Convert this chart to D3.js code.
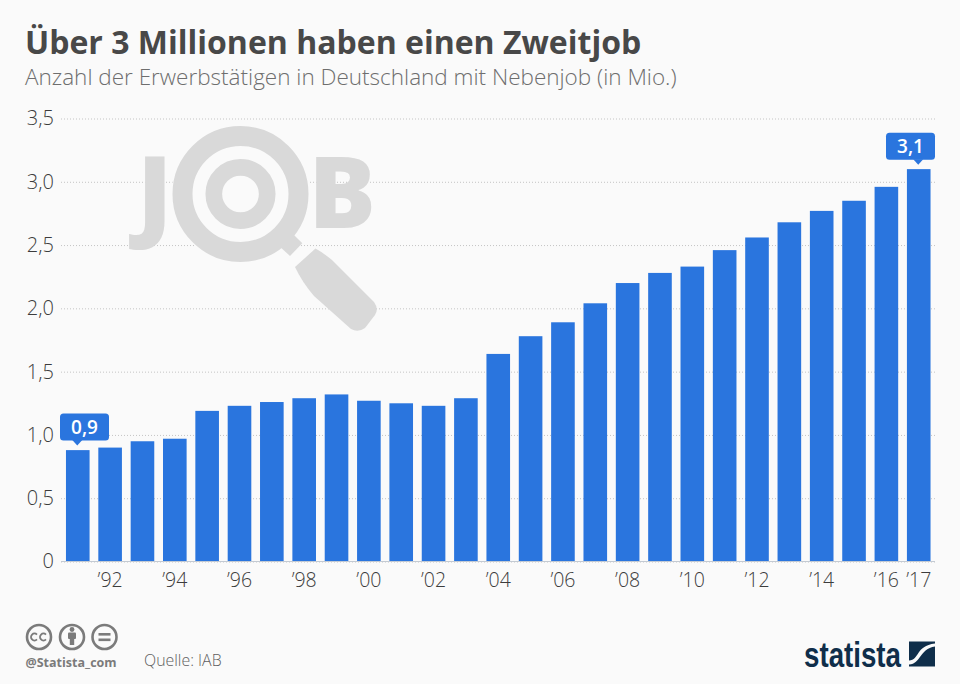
<!DOCTYPE html>
<html>
<head>
<meta charset="utf-8">
<script src="https://cdn.jsdelivr.net/npm/d3@7"></script>
<style>
  html, body { margin: 0; padding: 0; background: #fafafa; }
  svg { display: block; font-family: "Open Sans", sans-serif; }
</style>
</head>
<body>
<script>
const years = ["1991","1992","1993","1994","1995","1996","1997","1998","1999","2000","2001","2002","2003","2004","2005","2006","2007","2008","2009","2010","2011","2012","2013","2014","2015","2016","2017"];
const values = [0.88,0.90,0.95,0.97,1.19,1.23,1.26,1.29,1.32,1.27,1.25,1.23,1.29,1.64,1.78,1.89,2.04,2.20,2.28,2.33,2.46,2.56,2.68,2.77,2.85,2.96,3.10];
const yTicks = [0,0.5,1,1.5,2,2.5,3,3.5];
const xLabels = {"1992":"’92","1994":"’94","1996":"’96","1998":"’98","2000":"’00","2002":"’02","2004":"’04","2006":"’06","2008":"’08","2010":"’10","2012":"’12","2014":"’14","2016":"’16","2017":"’17"};
const callouts = [
  {year:"1991", text:"0,9", left:60, right:109},
  {year:"2017", text:"3,1", left:886, right:935}
];

const width = 960, height = 684;
const blue = "#2a75de", iconGrey = "#d9d9d9", navy = "#0f2e4a";

const svg = d3.select("body").append("svg")
  .attr("width", width)
  .attr("height", height);

svg.append("rect").attr("width", width).attr("height", height).attr("fill", "#fafafa");

svg.append("text").attr("x", 25).attr("y", 53.5)
  .attr("font-size", 32).attr("font-weight", 700).attr("fill", "#484848")
  .text("Über 3 Millionen haben einen Zweitjob");

svg.append("text").attr("x", 25).attr("y", 85)
  .attr("font-size", 22.5).attr("font-weight", 300).attr("fill", "#6e6e6e")
  .text("Anzahl der Erwerbstätigen in Deutschland mit Nebenjob (in Mio.)");

const x = d3.scaleBand().domain(years).range([61.6, 934.9]).paddingInner(0.27).paddingOuter(0.135);
const y = d3.scaleLinear().domain([0, 3.5]).range([561.5, 118.5]);

// grid + y labels
const yAxis = svg.append("g")
  .attr("transform", "translate(61,0)")
  .call(d3.axisLeft(y).tickValues(yTicks).tickSize(-874).tickPadding(7)
    .tickFormat(d => d === 0 ? "0" : d3.format(".1f")(d).replace(".", ",")));
yAxis.select(".domain").remove();
yAxis.selectAll(".tick line").attr("stroke", "#c4c4c4").attr("stroke-dasharray", "1,2");
yAxis.selectAll(".tick text").attr("font-size", 20).attr("font-weight", 300).attr("font-family", "'Open Sans', sans-serif").attr("fill", "#3c3c3c");

// watermark
const mark = svg.append("g").attr("fill", iconGrey);
mark.append("text").attr("x", 137).attr("y", 228).attr("font-size", 100).attr("font-weight", 800).text("J");
mark.append("text").attr("x", 308.5).attr("y", 228).attr("font-size", 100).attr("font-weight", 800).text("B");
mark.append("circle").attr("cx", 240.5).attr("cy", 194).attr("r", 69).attr("fill", "#fafafa");
mark.append("circle").attr("cx", 240.5).attr("cy", 194).attr("r", 58).attr("fill", "none").attr("stroke", iconGrey).attr("stroke-width", 20);
mark.append("circle").attr("cx", 240.5).attr("cy", 194).attr("r", 26.7).attr("fill", "none").attr("stroke", iconGrey).attr("stroke-width", 16.7);
mark.append("path").attr("d", "M278,245L291,232L302.3,243.3L290,256Z");
mark.append("path").attr("d", "M295,267L315.5,248.5Q322,252 332,260L374,302Q379,309 375,315L365,328Q358,333 351,329L314,296Q302,282 295,267Z");

// bars
svg.append("g").selectAll("rect")
  .data(years)
  .join("rect")
    .attr("x", d => x(d))
    .attr("width", x.bandwidth())
    .attr("y", (d, i) => y(values[i]))
    .attr("height", (d, i) => y(0) - y(values[i]))
    .attr("fill", blue);

// x axis
const xAxis = svg.append("g")
  .attr("transform", `translate(0,${y(0)})`)
  .call(d3.axisBottom(x).tickValues(Object.keys(xLabels)).tickSize(0).tickPadding(12).tickFormat(d => xLabels[d]));
xAxis.select(".domain").attr("stroke", "#c3cad3").attr("stroke-width", 1.2).attr("d", "M61,0H935");
xAxis.selectAll(".tick text").attr("font-size", 19.5).attr("font-weight", 300).attr("font-family", "'Open Sans', sans-serif").attr("fill", "#3c3c3c");

// value callouts
const callout = svg.append("g").selectAll("g").data(callouts).join("g");
callout.each(function(c) {
  const g = d3.select(this);
  const top = y(values[years.indexOf(c.year)]);
  const cx = x(c.year) + x.bandwidth() / 2 - 0.5;
  g.append("rect").attr("x", c.left).attr("width", c.right - c.left)
    .attr("y", top - 36.5).attr("height", 27).attr("rx", 3.5).attr("fill", blue);
  g.append("path").attr("d", `M${cx - 5},${top - 10}L${cx},${top - 4.5}L${cx + 5},${top - 10}Z`).attr("fill", blue);
  g.append("text").attr("x", (c.left + c.right) / 2).attr("y", top - 16)
    .attr("text-anchor", "middle").attr("font-size", 19).attr("font-weight", 600).attr("fill", "#fff")
    .text(c.text);
});

// licence icons
const cc = svg.append("g").attr("fill", "#7b7b7b");
[39, 72, 104.5].forEach(cx => {
  cc.append("circle").attr("cx", cx).attr("cy", 637).attr("r", 12).attr("fill", "none").attr("stroke", "#7b7b7b").attr("stroke-width", 2.6);
});
[34.5, 43.5].forEach(cx => {
  const arc = d3.arc().innerRadius(2.6).outerRadius(4.4).startAngle(Math.PI * 0.75).endAngle(Math.PI * 2.25);
  cc.append("path").attr("transform", `translate(${cx},637)`).attr("d", arc());
});
cc.append("circle").attr("cx", 72).attr("cy", 629.5).attr("r", 2.4);
cc.append("rect").attr("x", 68).attr("y", 632.5).attr("width", 8).attr("height", 6.5).attr("rx", 1);
cc.append("rect").attr("x", 69.8).attr("y", 638).attr("width", 4.4).attr("height", 7);
cc.append("rect").attr("x", 98.5).attr("y", 633).attr("width", 12).attr("height", 2.6);
cc.append("rect").attr("x", 98.5).attr("y", 638.5).attr("width", 12).attr("height", 2.6);

svg.append("text").attr("x", 25.5).attr("y", 667)
  .attr("font-size", 12.5).attr("font-weight", 700).attr("fill", "#7b7b7b")
  .text("@Statista_com");
svg.append("text").attr("x", 144).attr("y", 666)
  .attr("font-size", 15.9).attr("font-weight", 300).attr("fill", "#5f5f5f")
  .text("Quelle: IAB");

// logo
svg.append("text").attr("x", 804).attr("y", 666.5)
  .attr("font-family", "'Liberation Sans Narrow', 'Liberation Sans', sans-serif")
  .attr("font-size", 35).attr("font-weight", 700).attr("fill", navy)
  .attr("textLength", 97).attr("lengthAdjust", "spacingAndGlyphs")
  .text("statista");
svg.append("rect").attr("x", 909).attr("y", 641.5).attr("width", 26).attr("height", 25).attr("fill", navy);
svg.append("path").attr("d", "M909,664.5C921,664 919,649 935,646.5L935,643.5C915,646 920,660 909,660.5Z").attr("fill", "#fafafa");
</script>
</body>
</html>
